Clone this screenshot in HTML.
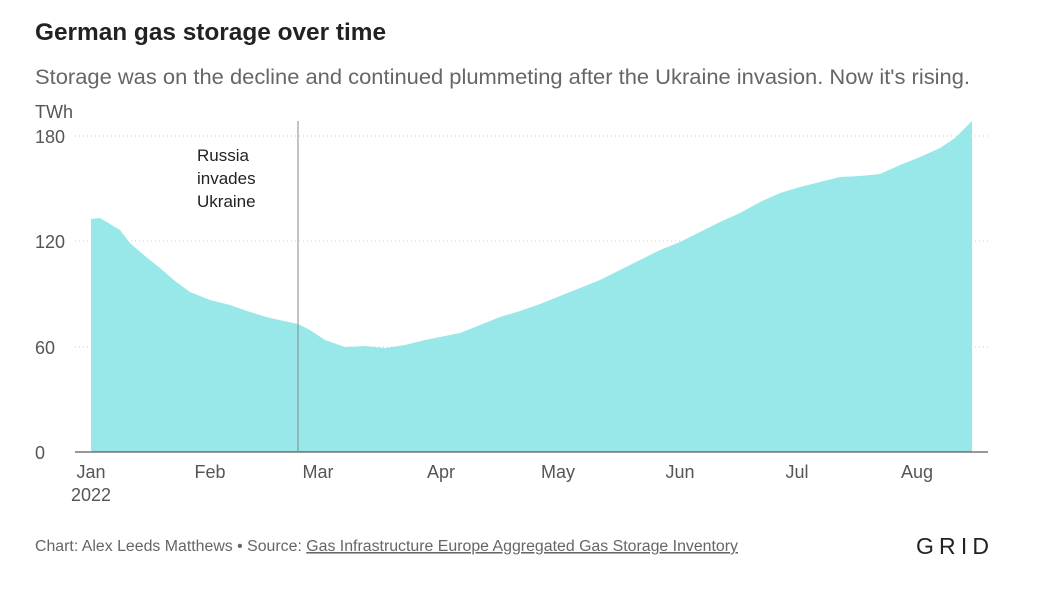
<!DOCTYPE html>
<html><head><meta charset="utf-8"><style>
body{margin:0;background:#fff;width:1060px;height:601px;overflow:hidden;font-family:"Liberation Sans",sans-serif}
</style></head><body>
<svg width="1060" height="601" xmlns="http://www.w3.org/2000/svg" font-family="Liberation Sans, sans-serif">
<text x="35" y="40" font-size="24" font-weight="bold" fill="#222" textLength="351" lengthAdjust="spacingAndGlyphs">German gas storage over time</text>
<text x="35" y="84" font-size="21" fill="#666" textLength="935" lengthAdjust="spacingAndGlyphs">Storage was on the decline and continued plummeting after the Ukraine invasion. Now it's rising.</text>
<g stroke="#ccc" stroke-dasharray="1,3" stroke-width="1">
<line x1="75" y1="136" x2="988" y2="136"/><line x1="75" y1="241" x2="988" y2="241"/><line x1="75" y1="347" x2="988" y2="347"/>
</g>
<path fill="#98e8ea" d="M91,452 L91,219 L100,218 L110,224 L120,230 L130,243 L145,256 L160,268 L175,281 L190,292 L210,300 L230,305 L250,312 L270,318 L298,324 L310,330 L325,340 L345,347 L365,346 L385,348 L405,345 L425,340 L440,337 L460,333 L480,325 L500,317 L520,311 L540,304 L560,296 L580,288 L600,280 L620,270 L640,260 L660,250 L680,242 L700,232 L720,222 L740,213 L760,202 L780,193 L800,187 L820,182 L840,177 L860,176 L880,174 L900,165 L920,157 L940,148 L955,138 L972,121 L972,452 Z"/>
<line x1="75" y1="452" x2="988" y2="452" stroke="#333" stroke-width="1"/>
<line x1="298" y1="121" x2="298" y2="452" stroke="#888" stroke-width="1"/>
<g font-size="18" fill="#555">
<text x="35" y="118">TWh</text>
<text x="35" y="143">180</text><text x="35" y="248">120</text><text x="35" y="354">60</text><text x="35" y="459">0</text>
</g>
<g font-size="17" fill="#222"><text x="197" y="161">Russia</text><text x="197" y="184">invades</text><text x="197" y="207">Ukraine</text></g>
<g font-size="18" fill="#555" text-anchor="middle">
<text x="91" y="478">Jan</text><text x="91" y="501">2022</text><text x="210" y="478">Feb</text><text x="318" y="478">Mar</text><text x="441" y="478">Apr</text><text x="558" y="478">May</text><text x="680" y="478">Jun</text><text x="797" y="478">Jul</text><text x="917" y="478">Aug</text>
</g>
<text x="35" y="551" font-size="15.5" fill="#666" textLength="703" lengthAdjust="spacingAndGlyphs">Chart: Alex Leeds Matthews • Source: <tspan text-decoration="underline">Gas Infrastructure Europe Aggregated Gas Storage Inventory</tspan></text>
<text x="916" y="554" font-size="23" fill="#222" textLength="73" lengthAdjust="spacing">GRID</text>
</svg>
</body></html>
